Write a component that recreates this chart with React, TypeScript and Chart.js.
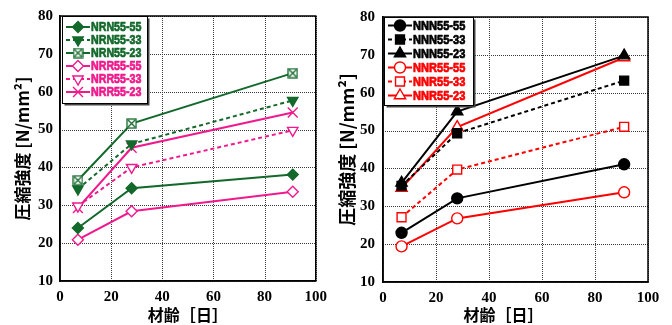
import React, { useEffect, useRef } from 'react';
import { Chart, registerables } from 'chart.js';
import { drawPoint } from 'chart.js/helpers';

Chart.register(...registerables);

// ---------- data ----------
const ages = [7, 28, 91];
const xTicksStep = 20;
const yMin = 10;
const yMax = 80;

const leftLabels = ['NRN55-55', 'NRN55-33', 'NRN55-23', 'NRR55-55', 'NRR55-33', 'NRR55-23'];
const nrn5555 = [24.0, 34.5, 38.1];
const nrn5533 = [34.3, 46.2, 57.7];
const nrn5523 = [36.6, 51.6, 64.9];
const nrr5555 = [20.9, 28.4, 33.6];
const nrr5533 = [29.8, 40.0, 49.8];
const nrr5523 = [29.3, 45.2, 54.5];

const rightLabels = ['NNN55-55', 'NNN55-33', 'NNN55-23', 'NNR55-55', 'NNR55-33', 'NNR55-23'];
const nnn5555 = [23.0, 32.1, 41.1];
const nnn5533 = [35.4, 49.3, 63.2];
const nnn5523 = [36.2, 55.0, 69.8];
const nnr5555 = [19.4, 26.8, 33.7];
const nnr5533 = [27.1, 39.7, 51.0];
const nnr5523 = [34.8, 50.9, 69.3];

const xTitle = '材齢［日］';
const yTitle = '圧縮強度 [N/mm²]';

// ---------- styles ----------
const GREEN = '#13692b';
const PINK = '#f01a8c';
const RED = '#ff0000';
const BLACK = '#000000';
const DASH = [4, 3];
const GRID = '#3a3a3a';

function makeBoxX(color: string, size: number) {
  const c = document.createElement('canvas');
  c.width = size;
  c.height = size;
  const g = c.getContext('2d')!;
  g.fillStyle = '#fff';
  g.fillRect(1, 1, size - 2, size - 2);
  g.strokeStyle = color;
  g.lineWidth = 1.3;
  g.strokeRect(1, 1, size - 2, size - 2);
  g.beginPath();
  g.moveTo(2, 2);
  g.lineTo(size - 2, size - 2);
  g.moveTo(size - 2, 2);
  g.lineTo(2, size - 2);
  g.stroke();
  return c;
}

const toPts = (vals: number[]) => vals.map((v, i) => ({ x: ages[i], y: v }));

function ds(label: string, vals: number[], color: string, opts: any) {
  return {
    label,
    data: toPts(vals),
    borderColor: color,
    borderWidth: 2,
    borderDash: opts.dash ? DASH : [],
    pointStyle: opts.style,
    pointRadius: opts.r,
    pointRotation: opts.rot || 0,
    pointBorderWidth: 1.4,
    pointBorderColor: color,
    pointBackgroundColor: opts.filled ? color : '#ffffff',
    pointHoverRadius: opts.r,
    fill: false,
    tension: 0,
  };
}

const dottedGrid = {
  id: 'dottedGrid',
  beforeDatasetsDraw(chart: any) {
    const { ctx, chartArea: a, scales } = chart;
    const xs = scales.x;
    const ys = scales.y;
    ctx.save();
    ctx.lineWidth = 1;
    ctx.strokeStyle = GRID;
    ctx.setLineDash([1, 1]);
    for (const t of xs.ticks) {
      const px = Math.round(xs.getPixelForValue(t.value)) + 0.5;
      ctx.beginPath();
      ctx.moveTo(px, a.top);
      ctx.lineTo(px, a.bottom);
      ctx.stroke();
    }
    for (const t of ys.ticks) {
      const py = Math.round(ys.getPixelForValue(t.value)) + 0.5;
      ctx.beginPath();
      ctx.moveTo(a.left, py);
      ctx.lineTo(a.right, py);
      ctx.stroke();
    }
    ctx.restore();
  },
};

const boxLegend = {
  id: 'boxLegend',
  afterDatasetsDraw(chart: any, _args: any, o: any) {
    const { ctx, chartArea: a } = chart;
    ctx.save();
    ctx.strokeStyle = '#000';
    ctx.lineWidth = 1.5;
    ctx.strokeRect(a.left, a.top, a.right - a.left, a.bottom - a.top);
    const x0 = Math.round(a.left + o.dx) + 0.5;
    const y0 = Math.round(a.top + o.dy) + 0.5;
    ctx.fillStyle = '#444';
    ctx.fillRect(x0 + 2, y0 + 2, o.w, o.h);
    ctx.fillStyle = '#fff';
    ctx.fillRect(x0, y0, o.w, o.h);
    ctx.strokeStyle = '#000';
    ctx.lineWidth = 1;
    ctx.strokeRect(x0, y0, o.w, o.h);
    chart.data.datasets.forEach((d: any, i: number) => {
      const y = a.top + o.row0 + i * o.rowH;
      ctx.strokeStyle = d.borderColor;
      ctx.lineWidth = d.borderWidth;
      ctx.setLineDash(d.borderDash || []);
      ctx.beginPath();
      ctx.moveTo(a.left + o.lx0, y);
      ctx.lineTo(a.left + o.lx1, y);
      ctx.stroke();
      ctx.setLineDash([]);
      ctx.fillStyle = d.pointBackgroundColor;
      ctx.strokeStyle = d.pointBorderColor;
      ctx.lineWidth = d.pointBorderWidth;
      drawPoint(ctx, { pointStyle: d.pointStyle, rotation: d.pointRotation, radius: d.pointRadius, borderWidth: d.pointBorderWidth }, a.left + o.mx, y);
      ctx.save();
      ctx.translate(a.left + o.tx, y + 0.5);
      ctx.scale(o.sx, 1);
      ctx.fillStyle = d.borderColor;
      ctx.strokeStyle = d.borderColor;
      ctx.lineWidth = 0.7;
      ctx.lineJoin = 'round';
      ctx.font = o.font;
      ctx.textBaseline = 'middle';
      ctx.textAlign = 'left';
      ctx.fillText(d.label, 0, 0);
      ctx.strokeText(d.label, 0, 0);
      ctx.restore();
    });
    ctx.restore();
  },
};

const tickFont = { family: '"Liberation Serif", "DejaVu Serif", serif', weight: 'bold' as const, size: 15 };
const cjkFamily = '"Noto Sans CJK JP", "Noto Sans", sans-serif';

function makeOptions(cfg: any) {
  return {
    responsive: false,
    animation: false as const,
    events: [],
    layout: { padding: { top: cfg.padTop, right: cfg.padRight, left: 0, bottom: 0 } },
    plugins: {
      legend: { display: false },
      tooltip: { enabled: false },
      boxLegend: cfg.legend,
      dottedGrid: {},
    },
    scales: {
      x: {
        type: 'linear' as const,
        min: 0,
        max: 100,
        ticks: { stepSize: xTicksStep, padding: 7, color: '#000', font: tickFont, maxRotation: 0 },
        grid: { display: false, drawTicks: false },
        border: { display: true, color: '#000', width: 1.5 },
        title: {
          display: true,
          text: cfg.xTitle,
          color: '#000',
          font: { family: cjkFamily, weight: 'bold' as const, size: 16 },
          padding: { top: 0, bottom: 0 },
        },
        afterFit: (s: any) => { s.height = cfg.xAxisH; },
      },
      y: {
        type: 'linear' as const,
        min: yMin,
        max: yMax,
        ticks: { stepSize: 10, padding: cfg.yTickPad, color: '#000', font: tickFont },
        grid: { display: false, drawTicks: false },
        border: { display: true, color: '#000', width: 1.5 },
        title: {
          display: true,
          text: yTitle,
          color: '#000',
          font: { family: cjkFamily, weight: 'bold' as const, size: cfg.yTitleSize },
          padding: { top: cfg.yTitlePad, bottom: 0 },
        },
        afterFit: (s: any) => { s.width = cfg.yAxisW; },
      },
    },
  };
}

function ChartCanvas({ left, width, build }: { left: number; width: number; build: () => any }) {
  const ref = useRef<HTMLCanvasElement>(null);
  useEffect(() => {
    const chart = new Chart(ref.current!, build());
    return () => chart.destroy();
  }, []);
  return (
    <canvas
      ref={ref}
      width={width}
      height={325}
      style={{ position: 'absolute', left, top: 0, width, height: 325, display: 'block' }}
    />
  );
}

const legendFont = 'bold 13px "Liberation Sans", Arial, sans-serif';

function buildLeft() {
  return {
    type: 'line' as const,
    data: {
      datasets: [
        ds(leftLabels[0], nrn5555, GREEN, { style: 'rectRot', r: 5.5, filled: true }),
        ds(leftLabels[1], nrn5533, GREEN, { style: 'triangle', r: 6, rot: 180, filled: true, dash: true }),
        ds(leftLabels[2], nrn5523, GREEN, { style: makeBoxX(GREEN, 11), r: 5.5 }),
        ds(leftLabels[3], nrr5555, PINK, { style: 'rectRot', r: 5.5 }),
        ds(leftLabels[4], nrr5533, PINK, { style: 'triangle', r: 6, rot: 180, dash: true }),
        ds(leftLabels[5], nrr5523, PINK, { style: 'crossRot', r: 7 }),
      ],
    },
    options: makeOptions({
      padTop: 13,
      padRight: 11,
      xAxisH: 44,
      yAxisW: 60,
      yTickPad: 7,
      yTitleSize: 17,
      yTitlePad: 12,
      xTitle: xTitle,
      legend: { dx: 2, dy: 0, w: 85, h: 87, row0: 11, rowH: 13, lx0: 6, lx1: 30, mx: 18, tx: 31, sx: 0.82, font: legendFont },
    }),
    plugins: [dottedGrid, boxLegend],
  };
}

function buildRight() {
  return {
    type: 'line' as const,
    data: {
      datasets: [
        ds(rightLabels[0], nnn5555, BLACK, { style: 'circle', r: 5.5, filled: true }),
        ds(rightLabels[1], nnn5533, BLACK, { style: 'rect', r: 6.3, filled: true, dash: true }),
        ds(rightLabels[2], nnn5523, BLACK, { style: 'triangle', r: 6.5, filled: true }),
        ds(rightLabels[3], nnr5555, RED, { style: 'circle', r: 5.5 }),
        ds(rightLabels[4], nnr5533, RED, { style: 'rect', r: 6.3, dash: true }),
        ds(rightLabels[5], nnr5523, RED, { style: 'triangle', r: 6.5 }),
      ],
    },
    options: makeOptions({
      padTop: 9.5,
      padRight: 24,
      xAxisH: 43,
      yAxisW: 47,
      yTickPad: 8,
      yTitleSize: 18,
      yTitlePad: 0,
      xTitle: xTitle + '　　',
      legend: { dx: 1, dy: 0, w: 89, h: 88, row0: 8.5, rowH: 14, lx0: 5, lx1: 29, mx: 17, tx: 30, sx: 0.82, font: 'bold 13.5px "Liberation Sans", Arial, sans-serif' },
    }),
    plugins: [dottedGrid, boxLegend],
  };
}

export default function App() {
  return (
    <div style={{ position: 'absolute', left: 0, top: 0, width: 672, height: 325, background: '#fff', overflow: 'hidden' }}>
      <ChartCanvas left={0} width={334} build={buildLeft} />
      <ChartCanvas left={336} width={336} build={buildRight} />
    </div>
  );
}
